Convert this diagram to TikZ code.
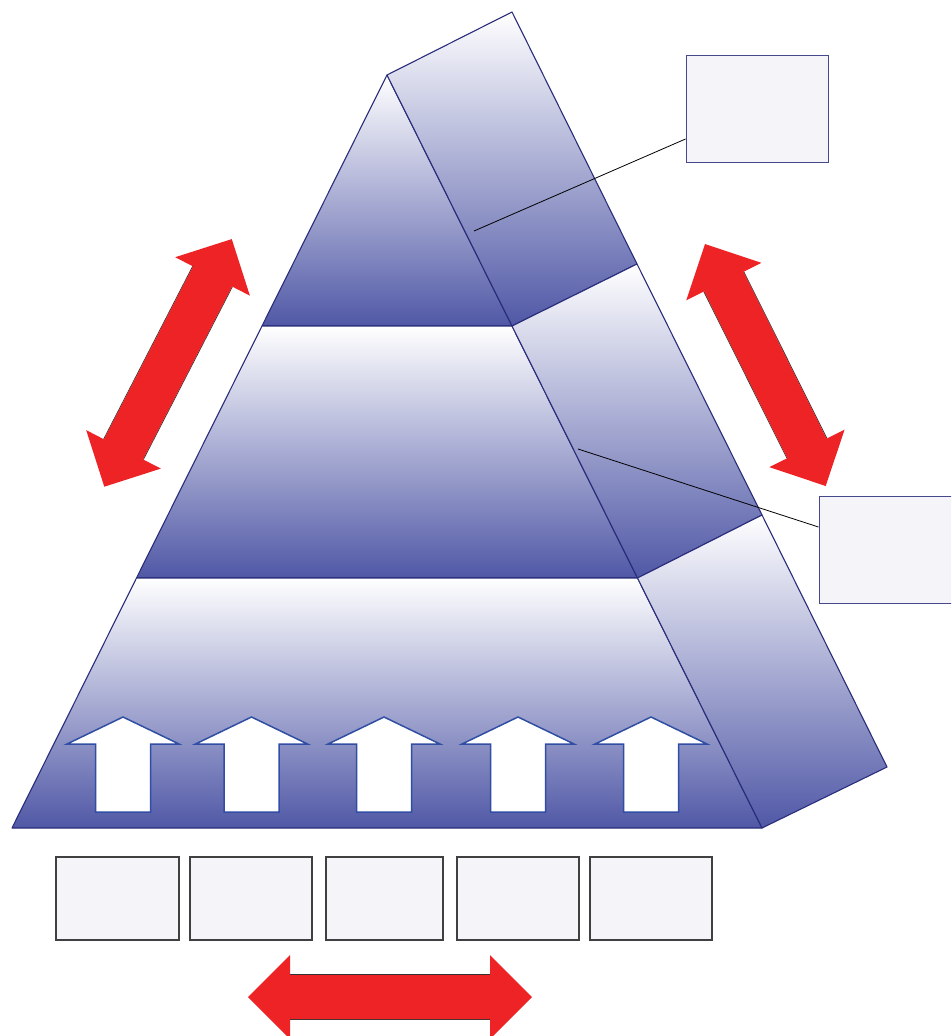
\documentclass[tikz,border=0pt]{standalone}
\usetikzlibrary{calc}
\definecolor{pyrblue}{RGB}{80,88,166}
\definecolor{pyredge}{RGB}{42,45,122}
\definecolor{arrowred}{RGB}{238,35,37}
\definecolor{uparrowedge}{RGB}{48,78,163}
\definecolor{boxfill}{RGB}{244,244,249}
\definecolor{calloutedge}{RGB}{70,72,140}

\tikzset{
  face/.style={top color=white, bottom color=pyrblue, draw=pyredge, line width=1.1pt, line join=round},
  uparrow/.style={fill=white, draw=uparrowedge, line width=1.5pt, line join=miter},
  basebox/.style={rectangle, draw=black!75, fill=boxfill, line width=1.3pt, minimum width=#1, minimum height=83pt, inner sep=0pt},
  callout/.style={rectangle, draw=calloutedge, fill=boxfill, line width=1pt, minimum width=142pt, minimum height=107pt, inner sep=0pt},
  leader/.style={draw=black, line width=0.8pt},
  redfill/.style={fill=arrowred},
  redshade/.style={draw=black!80, line width=0.8pt}
}

% double-headed red arrow: tail tip (#1,#2), direction angle #3, overall length #4
\newcommand\dblredarrow[4]{%
  \begin{scope}[shift={(#1,#2)}, rotate=#3]
    \draw[redshade] (42,22.3) -- (#4-42,22.3);
    \draw[redshade] (42,-22.3) -- (#4-42,-22.3);
    \fill[redfill] (0,0) -- (42,42) -- (42,22) -- (#4-42,22) -- (#4-42,42)
      -- (#4,0) -- (#4-42,-42) -- (#4-42,-22) -- (42,-22) -- (42,-42) -- cycle;
  \end{scope}}

% white upward arrow with centre line x = #1
\newcommand\whiteup[1]{%
  \draw[uparrow] (#1,717) -- (#1+56,744) -- (#1+27.5,744) -- (#1+27.5,812)
    -- (#1-27.5,812) -- (#1-27.5,744) -- (#1-56,744) -- cycle;}

\begin{document}
\begin{tikzpicture}[x=1pt, y=-1pt]
  \clip (0,0) rectangle (951,1036);
  \fill[white] (0,0) rectangle (951,1036);

  % front faces of the three tiers
  \shade[face] (387,75) -- (262,326) -- (512,326) -- cycle;
  \shade[face] (262,326) -- (512,326) -- (637.5,578) -- (136.5,578) -- cycle;
  \shade[face] (136.5,578) -- (637.5,578) -- (762,828) -- (12,828) -- cycle;

  % side faces of the three tiers
  \shade[face] (387,75) -- (512,12) -- (637,264) -- (512,326) -- cycle;
  \shade[face] (512,326) -- (637,264) -- (762,515) -- (637.5,578) -- cycle;
  \shade[face] (637.5,578) -- (762,515) -- (887,767) -- (762,828) -- cycle;

  % upward arrows on the base tier
  \whiteup{123}
  \whiteup{251.5}
  \whiteup{384}
  \whiteup{518}
  \whiteup{651}

  % base boxes
  \node[basebox=123pt] (b1) at (117.5,898.5) {};
  \node[basebox=122pt] (b2) at (251,898.5) {};
  \node[basebox=117pt] (b3) at (384.5,898.5) {};
  \node[basebox=122pt] (b4) at (518,898.5) {};
  \node[basebox=122pt] (b5) at (651,898.5) {};

  % callout boxes and their leader lines
  \node[callout] (c1) at (757,108.5) {};
  \node[callout] (c2) at (890,550) {};
  \coordinate (t1) at (474,231);
  \coordinate (t2) at (578,449);
  \draw[leader] ([yshift=-30.5pt]c1.west) -- (t1);
  \draw[leader] ([yshift=23pt]c2.west) -- (t2);

  % red double arrows
  \dblredarrow{104.3}{486.7}{62.76}{278.5}
  \dblredarrow{825.7}{486}{116.5}{270.4}
  \dblredarrow{248}{997}{0}{284}
\end{tikzpicture}
\end{document}
